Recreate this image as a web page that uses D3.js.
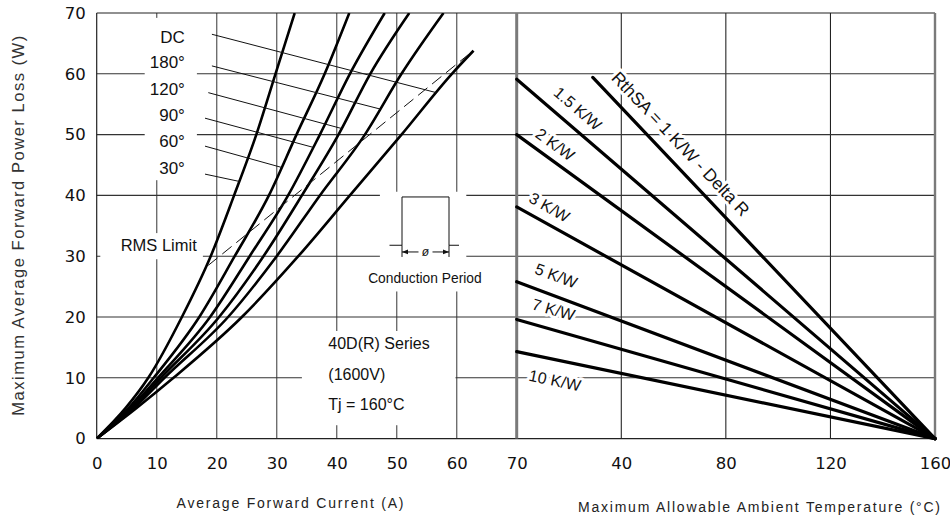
<!DOCTYPE html>
<html>
<head>
<meta charset="utf-8">
<script src="https://cdn.jsdelivr.net/npm/d3@7"></script>
<style>
  body { margin: 0; background: #fff; }
  svg { display: block; font-family: "Liberation Sans", Arial, sans-serif; }
</style>
</head>
<body>
<svg id="chart" width="950" height="518"></svg>
<script>
// ---- Power loss vs. average current (left panel) ----
const powerLevels = [0, 5, 10, 20, 30, 40, 50, 60, 70];          // W
const current30  = [0, 4.8, 8.6, 14.2, 19.0, 22.9, 26.6, 29.8, 33.0];   // A
const current60  = [0, 5.3, 9.5, 17.1, 23.0, 28.7, 33.3, 38.0, 42.1];
const current90  = [0, 5.6, 10.2, 18.9, 25.5, 31.9, 37.2, 42.2, 48.0];
const current120 = [0, 5.9, 10.7, 20.4, 27.8, 34.2, 40.3, 45.6, 52.1];
const current180 = [0, 6.2, 11.3, 21.9, 30.0, 37.2, 44.7, 50.8, 57.8];
const dcPower    = [0, 5, 10, 20, 30, 40, 50, 60, 63.8];
const dcCurrent  = [0, 6.6, 12.8, 24.2, 33.6, 42.2, 50.8, 59.2, 62.8];
const conductionLabels = ["30°", "60°", "90°", "120°", "180°", "DC"];

// RMS current limit (dashed)
const rmsCurrent = [18.6, 62.5];
const rmsPower   = [28.5, 63.6];

// Angle labels: label height, leader start, leader end (power on curve)
const labelPower       = [44.6, 49.0, 53.2, 57.6, 61.9, 66.0];
const leaderStartI     = [18.05, 18.05, 18.05, 18.6, 19.2, 19.2];
const leaderStartP     = [43.5, 48.1, 52.7, 56.9, 61.3, 66.5];
const leaderEndP       = [42.3, 44.6, 47.9, 51.0, 54.2, 56.9];

// ---- Heatsink lines vs. ambient temperature (right panel) ----
const rthLabels      = ["RthSA  = 1 K/W - Delta R", "1.5 K/W", "2 K/W", "3 K/W", "5 K/W", "7 K/W", "10 K/W"];
const rthStartTemp   = [29.1, 0, 0, 0, 0, 0, 0];                 // °C
const rthStartPower  = [59.4, 59.1, 50.0, 38.1, 25.8, 19.6, 14.3]; // W
const rthEndTemp     = 160;
const rthEndPower    = 0;
// label placement along each line: distance from line start, offset across line
const rthLabelAlong  = [13, 37, 15, 7, 13, 11, 17];
const rthLabelAcross = [-12, -12, -9, -10, -14, -14, 26];

// ---- Axes ----
const currentTicks = [0, 10, 20, 30, 40, 50, 60, 70];
const tempTicks    = [40, 80, 120, 160];
const powerTicks   = [0, 10, 20, 30, 40, 50, 60, 70];

const svg = d3.select("#chart");

const xI = d3.scaleLinear().domain([0, 70]).range([96.7, 516.7]);
const xT = d3.scaleLinear().domain([0, 160]).range([516.7, 935]);
const yP = d3.scaleLinear().domain([0, 70]).range([438.6, 13]);

// grid
const grid = svg.append("g");
grid.selectAll("line.vI").data(currentTicks.filter(d => d > 0 && d < 70)).join("line")
  .attr("x1", d => xI(d)).attr("x2", d => xI(d))
  .attr("y1", yP(70)).attr("y2", yP(0))
  .attr("stroke", "#6e6e6e").attr("stroke-width", 1.4);
grid.selectAll("line.vT").data(tempTicks.filter(d => d < 160)).join("line")
  .attr("x1", d => xT(d)).attr("x2", d => xT(d))
  .attr("y1", yP(70)).attr("y2", yP(0))
  .attr("stroke", "#111").attr("stroke-width", 1);
grid.selectAll("line.h").data(powerTicks.filter(d => d > 0 && d < 70)).join("line")
  .attr("x1", xI(0)).attr("x2", xT(160))
  .attr("y1", d => yP(d)).attr("y2", d => yP(d))
  .attr("stroke", "#333").attr("stroke-width", 1.1);

// white backing behind in-plot text blocks
const knock = [
  [xI(8.0), yP(69.2), xI(16.7), yP(42.5)],   // angle label column
  [xI(0.6), yP(33.8), xI(17.7), yP(29.5)],   // RMS Limit
  [xI(47.2), yP(40.6), xI(61.6), yP(24.2)],  // conduction period
  [xI(34.2), yP(17.7), xI(59.8), yP(2.2)]    // series box
];
svg.append("g").selectAll("rect").data(knock).join("rect")
  .attr("x", d => d[0]).attr("y", d => d[1])
  .attr("width", d => d[2] - d[0]).attr("height", d => d[3] - d[1])
  .attr("fill", "#fff");

// frame
const frame = svg.append("g");
frame.append("line").attr("x1", xI(0)).attr("x2", xT(160)).attr("y1", yP(70)).attr("y2", yP(70))
  .attr("stroke", "#222").attr("stroke-width", 1.2);
frame.append("line").attr("x1", xI(0)).attr("x2", xT(160)).attr("y1", yP(0)).attr("y2", yP(0))
  .attr("stroke", "#222").attr("stroke-width", 1.2);
frame.append("line").attr("x1", xI(0)).attr("x2", xI(0)).attr("y1", yP(70)).attr("y2", yP(0))
  .attr("stroke", "#222").attr("stroke-width", 1.2);
frame.append("line").attr("x1", xI(70)).attr("x2", xI(70)).attr("y1", yP(70)).attr("y2", yP(0))
  .attr("stroke", "#7a7a7a").attr("stroke-width", 3);
frame.append("line").attr("x1", xT(160)).attr("x2", xT(160)).attr("y1", yP(70)).attr("y2", yP(0))
  .attr("stroke", "#7a7a7a").attr("stroke-width", 2.4);

// tick labels
const tickFont = "'DejaVu Sans', sans-serif";
const yAxis = d3.axisLeft(yP).tickValues(powerTicks).tickSize(0).tickPadding(11);
svg.append("g").attr("transform", `translate(${xI(0)},0)`).call(yAxis)
  .call(g => g.select(".domain").remove())
  .selectAll("text").attr("font-size", 16.5).attr("font-family", tickFont).attr("fill", "#111");

const xAxisI = d3.axisBottom(xI).tickValues(currentTicks).tickSize(0).tickPadding(19);
svg.append("g").attr("transform", `translate(0,${yP(0)})`).call(xAxisI)
  .call(g => g.select(".domain").remove())
  .selectAll("text").attr("font-size", 16.5).attr("font-family", tickFont).attr("fill", "#111");

const xAxisT = d3.axisBottom(xT).tickValues(tempTicks).tickSize(0).tickPadding(19);
svg.append("g").attr("transform", `translate(0,${yP(0)})`).call(xAxisT)
  .call(g => g.select(".domain").remove())
  .selectAll("text").attr("font-size", 16.5).attr("font-family", tickFont).attr("fill", "#111");

// axis titles
svg.append("text")
  .attr("transform", `translate(24,${(yP(0) + yP(70)) / 2}) rotate(-90)`)
  .attr("text-anchor", "middle").attr("font-size", 16.5).attr("fill", "#333")
  .attr("textLength", 380).attr("lengthAdjust", "spacing")
  .text("Maximum Average Forward Power Loss (W)");
svg.append("text")
  .attr("x", 290).attr("y", 508).attr("text-anchor", "middle")
  .attr("font-size", 14).attr("fill", "#222")
  .attr("textLength", 227).attr("lengthAdjust", "spacing")
  .text("Average Forward Current (A)");
svg.append("text")
  .attr("x", 759).attr("y", 512).attr("text-anchor", "middle")
  .attr("font-size", 14).attr("fill", "#222")
  .attr("textLength", 362).attr("lengthAdjust", "spacing")
  .text("Maximum Allowable Ambient Temperature (°C)");

// ---- left panel curves ----
const curveSets = [
  { label: "30°",  p: powerLevels, i: current30 },
  { label: "60°",  p: powerLevels, i: current60 },
  { label: "90°",  p: powerLevels, i: current90 },
  { label: "120°", p: powerLevels, i: current120 },
  { label: "180°", p: powerLevels, i: current180 },
  { label: "DC",   p: dcPower,     i: dcCurrent }
];

svg.append("clipPath").attr("id", "leftClip").append("rect")
  .attr("x", xI(0)).attr("y", yP(70)).attr("width", xI(70) - xI(0)).attr("height", yP(0) - yP(70));

const line = d3.line().x(d => xI(d[0])).y(d => yP(d[1])).curve(d3.curveMonotoneX);
svg.append("g").attr("clip-path", "url(#leftClip)")
  .selectAll("path").data(curveSets).join("path")
  .attr("d", s => line(s.i.map((v, k) => [v, s.p[k]])))
  .attr("fill", "none").attr("stroke", "#000").attr("stroke-width", 2.6)
  .attr("stroke-linejoin", "round");

// RMS limit
svg.append("path")
  .attr("d", d3.line().x(d => xI(d[0])).y(d => yP(d[1]))(rmsCurrent.map((v, k) => [v, rmsPower[k]])))
  .attr("fill", "none").attr("stroke", "#111").attr("stroke-width", 1)
  .attr("stroke-dasharray", "12,6");

// leaders and angle labels
const leaders = svg.append("g");
curveSets.forEach((s, k) => {
  const endI = d3.scaleLinear().domain(s.p).range(s.i)(leaderEndP[k]);
  leaders.append("line")
    .attr("x1", xI(leaderStartI[k])).attr("y1", yP(leaderStartP[k]))
    .attr("x2", xI(endI)).attr("y2", yP(leaderEndP[k]))
    .attr("stroke", "#111").attr("stroke-width", 1);
  leaders.append("text")
    .attr("x", xI(14.7)).attr("y", yP(labelPower[k])).attr("dy", "0.36em")
    .attr("text-anchor", "end").attr("font-size", 17).attr("fill", "#111")
    .text(conductionLabels[k]);
});

svg.append("text").attr("x", xI(4.0)).attr("y", yP(30.8))
  .attr("font-size", 16.5).attr("fill", "#111").text("RMS Limit");

// conduction period sketch
const cp = svg.append("g").attr("transform", `translate(${xI(54.8)},${yP(31.8)})`)
  .attr("stroke", "#111").attr("fill", "none");
cp.append("path").attr("d", "M-36,0H-23.5V-48.3H23.5V0H33.5").attr("stroke-width", 1);
cp.append("path").attr("d", "M-23.5,0V11.7M23.5,0V11.7").attr("stroke-width", 1);
cp.append("path").attr("d", "M-23.5,6.7H-7M7,6.7H23.5").attr("stroke-width", 1);
cp.append("path").attr("d", "M-23.5,6.7l6,-2.4v4.8z M23.5,6.7l-6,-2.4v4.8z").attr("fill", "#111").attr("stroke", "none");
cp.append("text").attr("x", 0).attr("y", 6.7).attr("dy", "0.35em").attr("text-anchor", "middle")
  .attr("font-size", 12).attr("font-style", "italic").attr("stroke", "none").attr("fill", "#111").text("ø");
svg.append("text").attr("x", xI(54.7)).attr("y", yP(25.6)).attr("text-anchor", "middle")
  .attr("font-size", 13.8).attr("fill", "#111").text("Conduction Period");

// series box
const seriesLines = ["40D(R) Series", "(1600V)", "Tj = 160°C"];
const seriesPower = [14.7, 9.6, 4.7];
svg.append("g").selectAll("text").data(seriesLines).join("text")
  .attr("x", xI(38.6)).attr("y", (d, k) => yP(seriesPower[k]))
  .attr("font-size", 16).attr("fill", "#111").text(d => d);

// ---- right panel: heatsink lines ----
const rth = rthLabels.map((lab, k) => ({
  lab,
  x1: xT(rthStartTemp[k]), y1: yP(rthStartPower[k]),
  x2: xT(rthEndTemp), y2: yP(rthEndPower),
  along: rthLabelAlong[k], across: rthLabelAcross[k]
}));

svg.append("g").selectAll("text").data(rth).join("text")
  .attr("transform", d => {
    const a = Math.atan2(d.y2 - d.y1, d.x2 - d.x1) * 180 / Math.PI;
    return `translate(${d.x1},${d.y1}) rotate(${a})`;
  })
  .attr("x", d => d.along).attr("y", d => d.across)
  .attr("font-size", (d, k) => k === 0 ? 17.5 : 16).attr("fill", "#111")
  .attr("stroke", "#fff").attr("stroke-width", 6).attr("paint-order", "stroke")
  .attr("stroke-linejoin", "round")
  .text(d => d.lab);

svg.append("g").selectAll("line").data(rth).join("line")
  .attr("x1", d => d.x1).attr("y1", d => d.y1)
  .attr("x2", d => d.x2).attr("y2", d => d.y2)
  .attr("stroke", "#000").attr("stroke-width", 3.2).attr("stroke-linecap", "round");
</script>
</body>
</html>
